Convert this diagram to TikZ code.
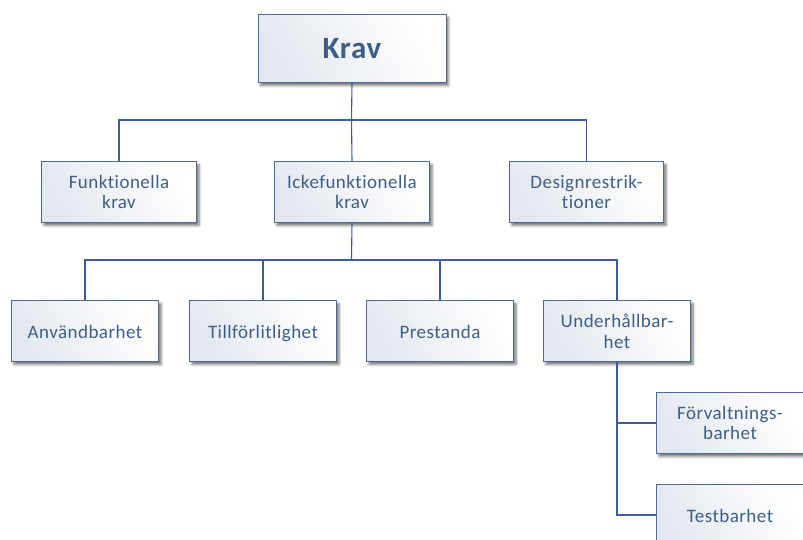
\documentclass[tikz,border=0pt]{standalone}
\usepackage{fontspec}
\setmainfont[Ligatures={NoCommon},LetterSpace=2.5]{Carlito}
\usetikzlibrary{shadows,shadows.blur}
\definecolor{boxline}{HTML}{4A6A98}
\definecolor{boxfillA}{HTML}{E3E8EF}
\definecolor{txt}{HTML}{3D5F86}
\definecolor{conn}{HTML}{3B5CA0}
\tikzset{
  box/.style={draw=boxline, line width=1pt, shading=axis, left color=boxfillA, right color=white, shading angle=120,
    blur shadow={shadow xshift=2.5pt, shadow yshift=-3pt, shadow blur radius=2.5pt, shadow opacity=55},
    text=txt, align=center, inner sep=0pt, anchor=north west, font=\fontsize{19}{20.7}\selectfont},
  one/.style={text height=19pt, text depth=4pt},
  conn/.style={draw=conn, line width=1.1pt}
}
\begin{document}
\begin{tikzpicture}[x=1pt,y=-1pt]
\useasboundingbox (0,0) rectangle (803,540);
\clip (0,0) rectangle (803,540);
\coordinate (j1) at (351.5,120);
\coordinate (j2) at (351.5,260);
\node[box, minimum width=188pt, minimum height=68pt, font=\fontsize{31}{34}\bfseries\selectfont] (krav) at (257.5,14) {Krav};
\node[box, minimum width=155pt, minimum height=61pt] (fk) at (41,161) {Funktionella\\krav};
\node[box, minimum width=155pt, minimum height=61pt] (ik) at (274,161) {Ickefunktionella\\krav};
\node[box, minimum width=154pt, minimum height=61pt] (dr) at (509,161) {Designrestrik-\\tioner};
\node[box, one, minimum width=147pt, minimum height=61pt] (an) at (11,300) {Användbarhet};
\node[box, one, minimum width=147pt, minimum height=61pt] (ti) at (189,300) {Tillförlitlighet};
\node[box, one, minimum width=147pt, minimum height=61pt] (pr) at (366,300) {Prestanda};
\node[box, minimum width=147pt, minimum height=61pt] (un) at (543,300) {Underhållbar-\\het};
\node[box, minimum width=147pt, minimum height=61pt] (fo) at (656,392) {Förvaltnings-\\barhet};
\node[box, one, minimum width=147pt, minimum height=61pt] (te) at (656,484) {Testbarhet};
\draw[conn] (krav.south) -- (j1);
\draw[conn] (fk.north) |- (j1) -| (dr.north);
\draw[conn] (j1) -- (ik.north);
\draw[conn] (ik.south) -- (j2);
\draw[conn] (an.north) |- (j2) -| (un.north);
\draw[conn] (ti.north) -- (ti.north |- j2);
\draw[conn] (pr.north) -- (pr.north |- j2);
\draw[conn] (un.south) |- (te.west);
\draw[conn] (un.south |- fo.west) -- (fo.west);
\end{tikzpicture}
\end{document}
